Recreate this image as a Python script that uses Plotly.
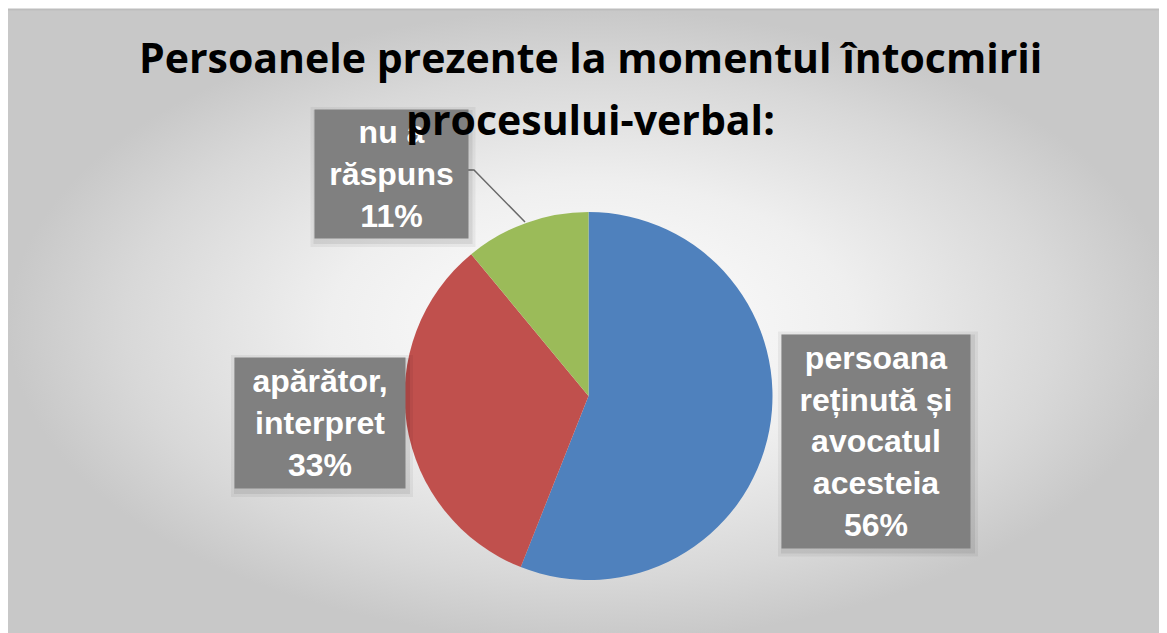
import plotly.graph_objects as go

# ---- data ----
categories = ["persoana reținută și avocatul acesteia", "apărător, interpret", "nu a răspuns"]
label_lines = [["persoana", "reținută și", "avocatul", "acesteia"], ["apărător,", "interpret"], ["nu a", "răspuns"]]
values = [56, 33, 11]
colors = ["#4F81BD", "#C0504D", "#9BBB59"]
title_lines = ["Persoanele prezente la momentul întocmirii", "procesului-verbal:"]

W, H = 1167, 633
cx, cy, r = 580.5, 388, 184

fig = go.Figure()

# background panel with radial gradient
fig.add_trace(go.Scatter(
    x=[0, W, W, 0, 0], y=[1, 1, H, H, 1], mode="lines", fill="toself",
    line=dict(width=0), hoverinfo="skip", showlegend=False,
    fillgradient=dict(type="radial", colorscale=[[0, "#ffffff"], [0.45, "#efefef"], [0.8, "#d8d8d8"], [1, "#c8c8c8"]]),
))

# soft pie shadow
for grow, a in [(10, 0.025), (6, 0.03), (3, 0.04)]:
    fig.add_shape(type="circle", x0=cx - r - grow, x1=cx + r + grow, y0=cy - r - grow + 3, y1=cy + r + grow + 6,
                  line=dict(width=0), fillcolor=f"rgba(0,0,0,{a})", layer="below")

fig.add_trace(go.Pie(
    labels=categories, values=values, sort=False, direction="clockwise", rotation=0,
    marker=dict(colors=colors, line=dict(width=0)), textinfo="none", hoverinfo="label+percent",
    showlegend=False,
    domain=dict(x=[(cx - r) / W, (cx + r) / W], y=[1 - (cy + r) / H, 1 - (cy - r) / H]),
))

# leader line for small slice
fig.add_shape(type="path", path="M 460 162 L 466 162 L 517 214",
              line=dict(color="#6a6a6a", width=1.5), layer="above")

total = sum(values)
boxes = [  # (center x, center y, width, height)
    (868, 433, 188, 213),
    (312, 415, 170, 130),
    (383, 166, 153, 128),
]
for (bx, by, bw, bh) in boxes:
    for grow, a in [(6, 0.05), (3, 0.07)]:
        fig.add_shape(type="rect", x0=bx - bw / 2 - grow + 2, x1=bx + bw / 2 + grow + 2,
                      y0=by - bh / 2 - grow + 3, y1=by + bh / 2 + grow + 3,
                      line=dict(width=0), fillcolor=f"rgba(0,0,0,{a})", layer="above")
for lines, v, (bx, by, bw, bh) in zip(label_lines, values, boxes):
    pct = f"{round(100 * v / total)}%"
    fig.add_annotation(
        x=bx, y=by, xref="x", yref="y", showarrow=False,
        text="<br>".join(lines + [pct]),
        font=dict(family="Liberation Sans, Arial", size=32, color="white", weight="bold"),
        bgcolor="#808080", width=bw, height=bh, borderpad=0, align="center", valign="middle",
        xanchor="center", yanchor="middle",
    )

# title (drawn above label boxes)
for txt, ty in zip(title_lines, [49, 111]):
    fig.add_annotation(
        x=582, y=ty, xref="x", yref="y", showarrow=False, text=f"<b>{txt}</b>",
        font=dict(family="Open Sans", size=41, color="black"),
        xanchor="center", yanchor="middle",
    )

fig.add_shape(type="line", x0=0, x1=W, y0=1.5, y1=1.5, line=dict(color="#bdbdbd", width=2), layer="above")

fig.update_layout(
    width=W, height=H, margin=dict(l=0, r=0, t=0, b=0),
    paper_bgcolor="white", plot_bgcolor="rgba(0,0,0,0)",
    xaxis=dict(range=[0, W], visible=False, fixedrange=True),
    yaxis=dict(range=[H, 0], visible=False, fixedrange=True),
    showlegend=False,
)

fig.write_html("out.html")
